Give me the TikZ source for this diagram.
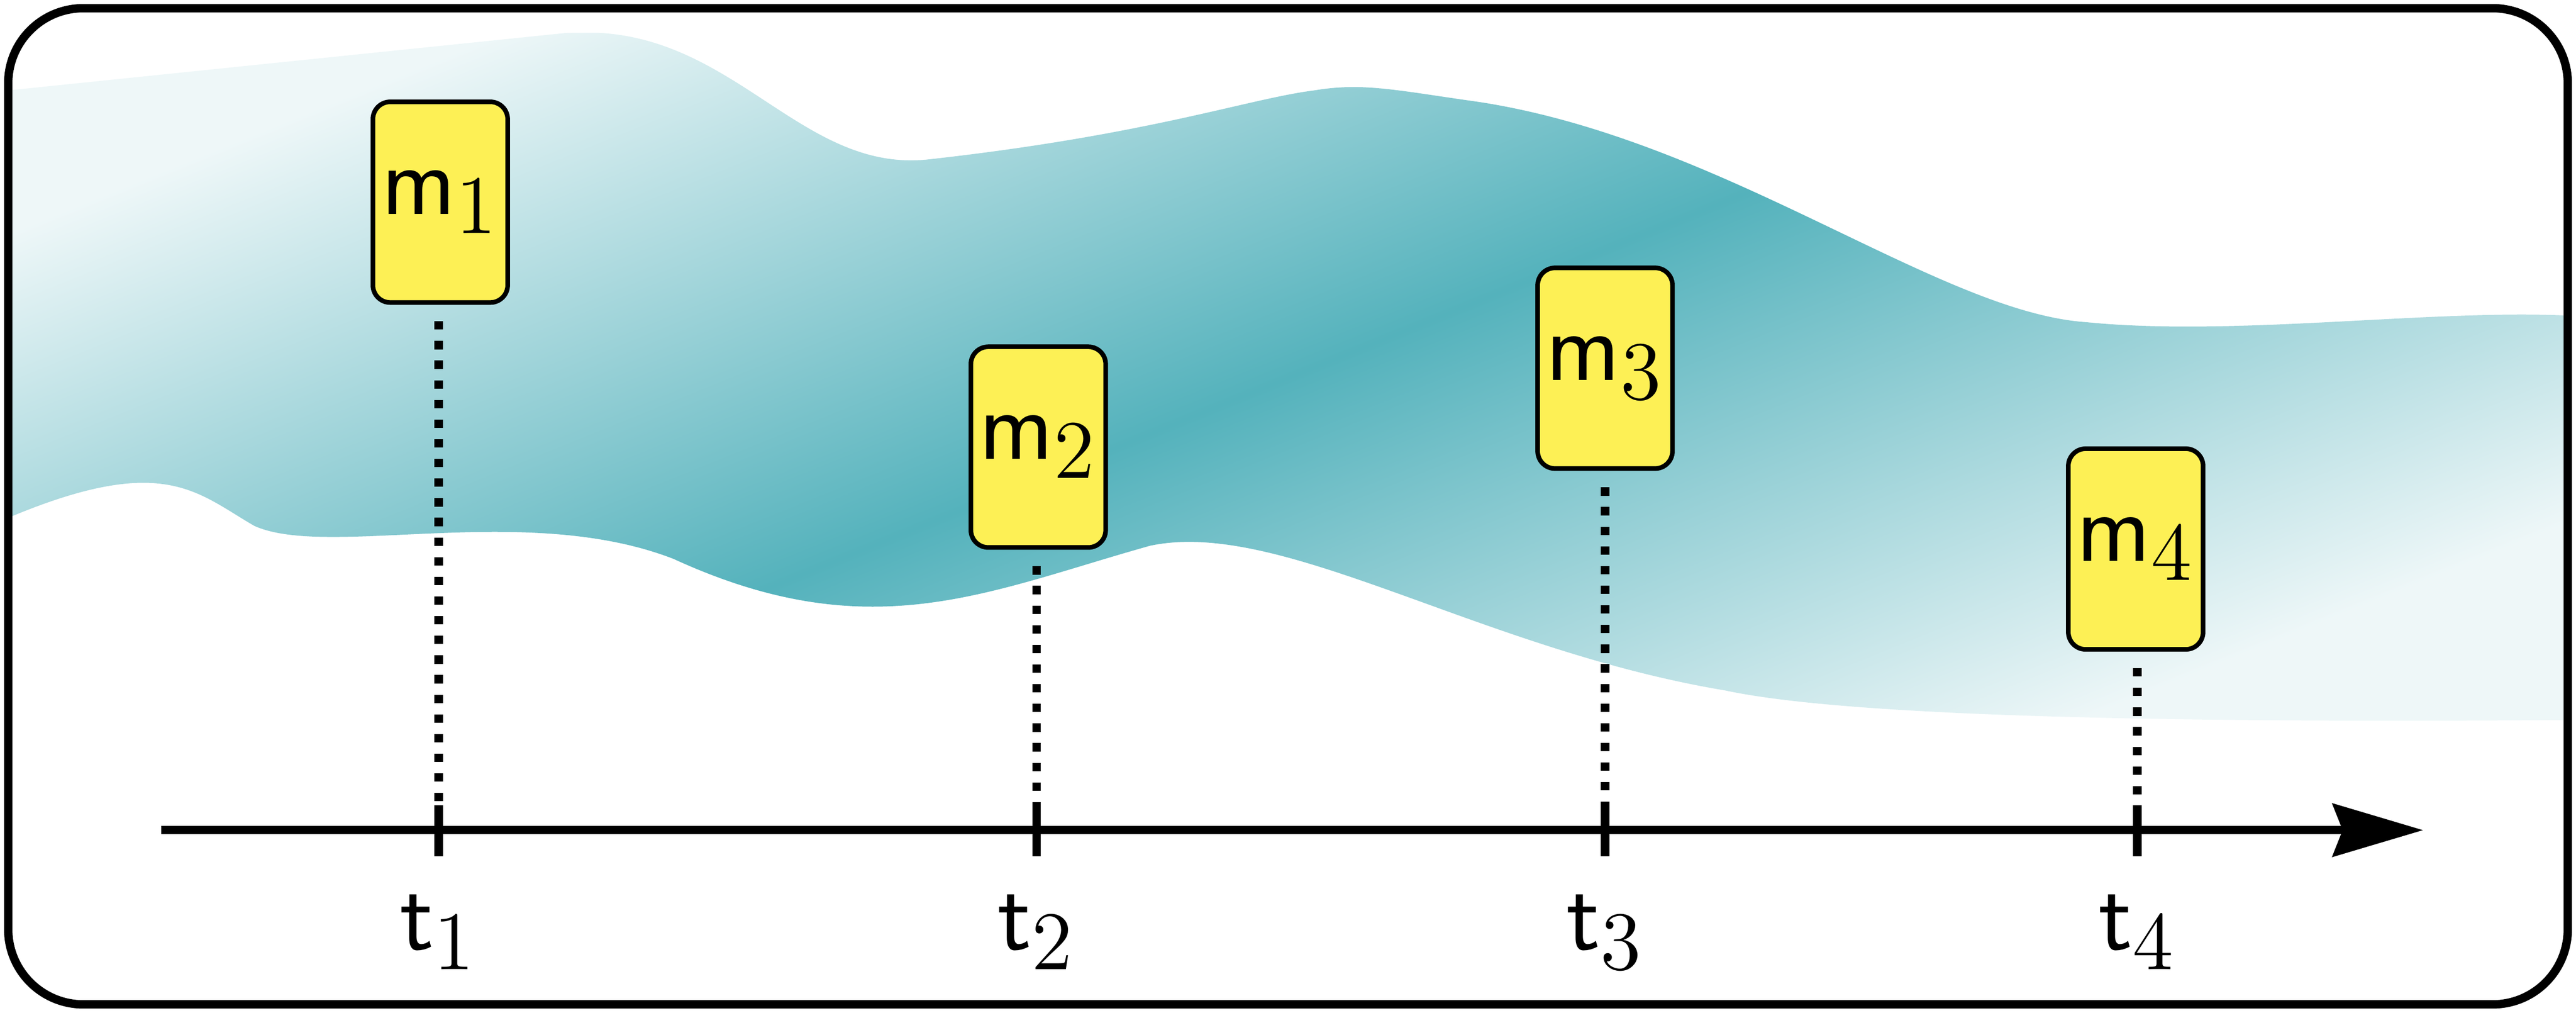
\documentclass[tikz,border=0pt]{standalone}
\usepackage{amsmath}
\usetikzlibrary{arrows.meta}
\definecolor{tealc}{RGB}{84,178,188}
\definecolor{lightt}{RGB}{238,247,248}
\definecolor{boxy}{RGB}{253,240,85}
\tikzset{
  mbox/.style={draw=black, line width=0.8pt, fill=boxy, rounded corners=3pt, minimum width=0.82cm, minimum height=1.22cm, inner sep=0pt, font=\fontsize{19}{22}\selectfont},
  dotline/.style={line width=1.45pt, dash pattern=on 1.45pt off 1.95pt},
  tick/.style={line width=1.45pt},
  tlabel/.style={font=\fontsize{19}{22}\selectfont, inner sep=0pt}
}
\begin{document}
\begin{tikzpicture}[x=0.01cm,y=-0.01cm]
\useasboundingbox (0,0) rectangle (1568,616);
\shade[left color=lightt, right color=lightt, middle color=tealc, shading angle=22]
 (5,55) -- (345,20) -- (365,20) .. controls (450,25) and (490,105) .. (565,97)
 .. controls (700,82) and (760,60) .. (800,55) .. controls (830,50) and (850,55) .. (900,62)
 .. controls (1050,85) and (1180,190) .. (1270,196) .. controls (1360,205) and (1480,188) .. (1563,192)
 -- (1563,438) .. controls (1300,440) and (1120,435) .. (1050,420)
 .. controls (900,395) and (780,315) .. (700,332) .. controls (600,360) and (530,395) .. (410,340)
 .. controls (320,305) and (200,340) .. (155,320) .. controls (120,300) and (100,275) .. (5,315) -- cycle;
\draw[line width=1.45pt, rounded corners=13pt] (5,5) rectangle (1563,611);
\coordinate (as) at (98,505);
\coordinate (ae) at (1475,505);
\draw[line width=1.45pt, -{Stealth[length=0.55cm,width=0.32cm,inset=0.06cm]}] (as) -- (ae);
\node[mbox] (m1) at (268,123) {$\mathsf{m}_1$};
\node[mbox] (m2) at (632,272) {$\mathsf{m}_2$};
\node[mbox] (m3) at (977,224) {$\mathsf{m}_3$};
\node[mbox] (m4) at (1300,334) {$\mathsf{m}_4$};
\foreach \i/\x in {1/267,2/631,3/977,4/1301}{
  \coordinate (b\i) at (\x,505);
  \coordinate (tt\i) at (\x,490);
  \coordinate (tb\i) at (\x,521);
  \draw[dotline] (m\i.south -| b\i) ++(0,10) -- (b\i);
  \draw[tick] (tt\i) -- (tb\i);
  \node[tlabel] (t\i) at (\x,567) {$\mathsf{t}_\i$};
}
\end{tikzpicture}
\end{document}
